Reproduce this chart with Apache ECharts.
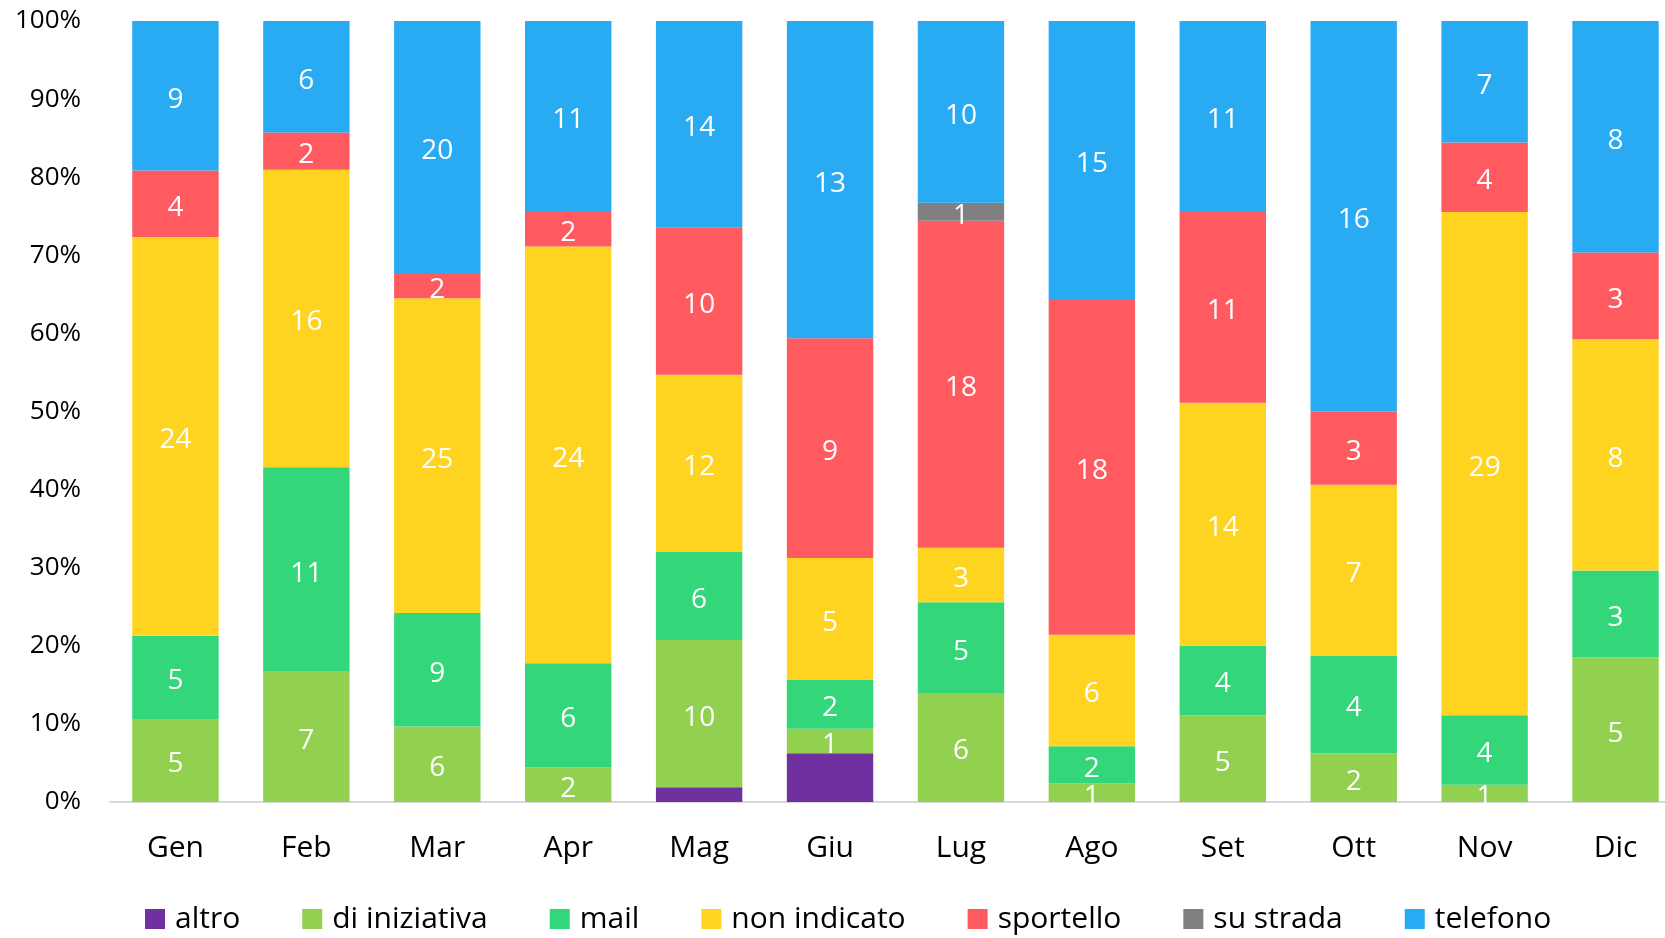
<!DOCTYPE html>
<html>
<head>
<meta charset="utf-8">
<title>Canali per mese</title>
<script src="https://cdn.jsdelivr.net/npm/echarts@6/dist/echarts.min.js"></script>
<style>
    html, body { margin: 0; padding: 0; background: #fff; overflow: hidden; }
    /* un po' più largo della finestra: l'ultima colonna nell'originale esce dal bordo */
    #grafico { width: 1681px; height: 938px; }
</style>
</head>
<body>
<div id="grafico"></div>
<script>
// dati (conteggi per mese)
var mesi = ['Gen', 'Feb', 'Mar', 'Apr', 'Mag', 'Giu', 'Lug', 'Ago', 'Set', 'Ott', 'Nov', 'Dic'];
var altro = [0, 0, 0, 0, 1, 2, 0, 0, 0, 0, 0, 0];
var diIniziativa = [5, 7, 6, 2, 10, 1, 6, 1, 5, 2, 1, 5];
var mail = [5, 11, 9, 6, 6, 2, 5, 2, 4, 4, 4, 3];
var nonIndicato = [24, 16, 25, 24, 12, 5, 3, 6, 14, 7, 29, 8];
var sportello = [4, 2, 2, 2, 10, 9, 18, 18, 11, 3, 4, 3];
var suStrada = [0, 0, 0, 0, 0, 0, 1, 0, 0, 0, 0, 0];
var telefono = [9, 6, 20, 11, 14, 13, 10, 15, 11, 16, 7, 8];
var tickPercentuali = [0, 10, 20, 30, 40, 50, 60, 70, 80, 90, 100];

var FONT = '"Open Sans", sans-serif';

var serie = [
    { nome: 'altro', dati: altro, colore: '#7030A0', etichetta: false },
    { nome: 'di iniziativa', dati: diIniziativa, colore: '#92D050', etichetta: true },
    { nome: 'mail', dati: mail, colore: '#34D67A', etichetta: true },
    { nome: 'non indicato', dati: nonIndicato, colore: '#FFD421', etichetta: true },
    { nome: 'sportello', dati: sportello, colore: '#FF5A5F', etichetta: true },
    { nome: 'su strada', dati: suStrada, colore: '#808080', etichetta: true },
    { nome: 'telefono', dati: telefono, colore: '#29ABF4', etichetta: true }
];

// totale per mese, per il 100% in pila
var totali = mesi.map(function (m, i) {
    var t = 0;
    serie.forEach(function (s) { t += s.dati[i]; });
    return t;
});

function CreaGrafico() {
    var chartDom = document.getElementById('grafico');
    var myChart = echarts.init(chartDom);

    var series = serie.map(function (s) {
        return {
            name: s.nome,
            type: 'bar',
            stack: 'totale',
            barCategoryGap: '34%',
            itemStyle: { color: s.colore },
            label: {
                show: s.etichetta,
                position: 'inside',
                offset: [0, 4],
                color: '#fff',
                fontFamily: FONT,
                fontSize: 28,
                formatter: function (p) {
                    var n = s.dati[p.dataIndex];
                    return n > 0 ? String(n) : '';
                }
            },
            emphasis: { disabled: true },
            data: s.dati.map(function (v, i) {
                return v / totali[i] * 100;
            })
        };
    });

    var option = {
        animation: false,
        color: serie.map(function (s) { return s.colore; }),
        grid: {
            left: 110,
            right: 0,
            top: 21,
            bottom: 136
        },
        legend: {
            left: 140,
            top: 899,
            itemWidth: 20,
            itemHeight: 20,
            itemGap: 62,
            icon: 'rect',
            textStyle: {
                fontFamily: FONT,
                fontSize: 30,
                color: '#000',
                padding: [0, 0, 0, 5]
            },
            data: serie.map(function (s) { return s.nome; })
        },
        xAxis: {
            type: 'category',
            data: mesi,
            axisLine: { lineStyle: { color: '#d9d9d9', width: 2 } },
            axisTick: { show: false },
            axisLabel: {
                fontFamily: FONT,
                fontSize: 30,
                color: '#000',
                margin: 31
            }
        },
        yAxis: {
            type: 'value',
            min: tickPercentuali[0],
            max: tickPercentuali[tickPercentuali.length - 1],
            interval: tickPercentuali[1] - tickPercentuali[0],
            axisLine: { show: false },
            axisTick: { show: false },
            splitLine: { show: false },
            axisLabel: {
                fontFamily: FONT,
                fontSize: 26,
                color: '#000',
                margin: 29,
                formatter: '{value}%'
            }
        },
        series: series
    };

    option && myChart.setOption(option);
}

CreaGrafico();
</script>
</body>
</html>
